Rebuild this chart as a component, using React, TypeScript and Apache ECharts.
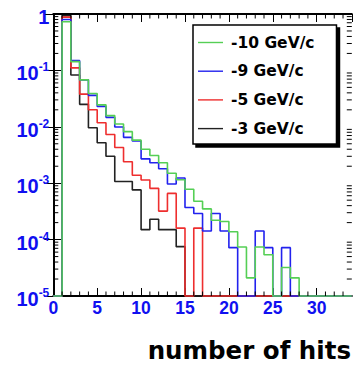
import React, { useEffect, useRef } from "react";
import * as echarts from "echarts";

// ---- axis ranges ----
const X_MIN = 0;
const X_MAX = 34;
const Y_MIN = 1e-5;
const Y_MAX = 1;

// ---- legend / series names and colours ----
const SERIES_NAMES = ["-10 GeV/c", "-9 GeV/c", "-5 GeV/c", "-3 GeV/c"];
const SERIES_COLORS = ["#55cf55", "#2222ee", "#ee2e2e", "#222222"];

// ---- bin contents: bin k covers [k, k+1) number of hits ----
const P10 = [
  0, 0.73, 0.143, 0.068, 0.039, 0.0245, 0.0158, 0.0112, 0.0082, 0.0058,
  0.004, 0.0031, 0.0023, 0.0015, 0.00115, 0.00078, 0.00048, 0.00035, 0.00022, 0.00021,
  0.000138, 0.000074, 0.000021, 0.000074, 0.000054, 0, 0.000032, 0.000021, 0, 0,
  0, 0, 0, 0,
];
const P9 = [
  0, 0.8, 0.149, 0.068, 0.036, 0.023, 0.0147, 0.0099, 0.0065, 0.0056,
  0.0027, 0.0023, 0.0018, 0.00097, 0.00124, 0.00037, 0.00029, 0.000142, 0.00029, 0.000142,
  0.000072, 0, 0, 0.000142, 0.000072, 0, 0.000072, 0, 0, 0,
  0, 0, 0, 0,
];
const P5 = [
  0, 0.88, 0.111, 0.038, 0.02, 0.0118, 0.0073, 0.0043, 0.0024, 0.00138,
  0.00114, 0.00081, 0.00032, 0.00066, 0.00016, 0, 0.00016, 0, 0, 0,
  0, 0, 0, 0, 0, 0, 0, 0, 0, 0,
  0, 0, 0, 0,
];
const P3 = [
  0, 0.93, 0.083, 0.025, 0.0096, 0.0052, 0.003, 0.00107, 0.00107, 0.00076,
  0.00015, 0.00023, 0.00015, 0.00015, 0.000075, 0, 0, 0, 0, 0,
  0, 0, 0, 0, 0, 0, 0, 0, 0, 0,
  0, 0, 0, 0,
];

const X_TITLE = "number of hits";

// minor tick positions (axis structure)
const X_MINOR_TICKS: number[] = [];
for (let v = X_MIN + 1; v < X_MAX; v++) if (v % 5 !== 0) X_MINOR_TICKS.push(v);
const Y_MINOR_TICKS: number[] = [];
for (let e = -5; e < 0; e++) for (let m = 2; m <= 9; m++) Y_MINOR_TICKS.push(m * Math.pow(10, e));

function histData(values: number[]) {
  const pts: number[][] = values.map((v, k) => [k, v > 0 ? v : Y_MIN]);
  const last = values[values.length - 1];
  pts.push([values.length, last > 0 ? last : Y_MIN]);
  return pts;
}

const LABEL_BLUE = "#1010f0";
const AXIS_FONT = "'Liberation Sans', Arial, Helvetica, sans-serif";
const TITLE_FONT = "'DejaVu Sans', sans-serif";

export default function App() {
  const ref = useRef<HTMLDivElement>(null);

  useEffect(() => {
    if (!ref.current) return;
    const chart = echarts.init(ref.current, null, { renderer: "svg" });

    const seriesValues = [P10, P9, P5, P3];
    // draw order: black, red, blue, green (green on top)
    const drawOrder = [3, 2, 1, 0];
    const lineSeries = drawOrder.map((i) => ({
      name: SERIES_NAMES[i],
      type: "line",
      step: "end",
      symbol: "none",
      clip: false,
      data: histData(seriesValues[i]),
      lineStyle: { color: SERIES_COLORS[i], width: 1.6 },
      itemStyle: { color: SERIES_COLORS[i] },
      emphasis: { disabled: true },
      z: 3,
    }));

    const tickData: number[][] = [
      ...X_MINOR_TICKS.map((v) => [v, Y_MIN, 0]),
      ...Y_MINOR_TICKS.map((v) => [X_MIN, v, 1]),
    ];

    const tickSeries = {
      type: "custom",
      silent: true,
      clip: false,
      z: 4,
      encode: { x: 0, y: 1 },
      data: tickData,
      renderItem: (params: any, api: any) => {
        const kind = api.value(2);
        const st = { stroke: "#000", lineWidth: 1 };
        if (kind === 0) {
          const x = api.value(0);
          const b = api.coord([x, Y_MIN]);
          const t = api.coord([x, Y_MAX]);
          return {
            type: "group",
            children: [
              { type: "line", shape: { x1: b[0], y1: b[1], x2: b[0], y2: b[1] - 4.5 }, style: st },
              { type: "line", shape: { x1: t[0], y1: t[1], x2: t[0], y2: t[1] + 4.5 }, style: st },
            ],
          };
        }
        const y = api.value(1);
        const l = api.coord([X_MIN, y]);
        const r = api.coord([X_MAX, y]);
        return {
          type: "group",
          children: [
            { type: "line", shape: { x1: l[0], y1: l[1], x2: l[0] + 5, y2: l[1] }, style: st },
            { type: "line", shape: { x1: r[0], y1: r[1], x2: r[0] - 5, y2: r[1] }, style: st },
          ],
        };
      },
    };

    const axisLine = { show: true, lineStyle: { color: "#000", width: 2 } };

    const option: any = {
      animation: false,
      backgroundColor: "#fff",
      title: {
        text: X_TITLE,
        right: 2,
        top: 336,
        padding: 0,
        textStyle: {
          fontFamily: TITLE_FONT,
          fontWeight: "bold",
          fontSize: 24.5,
          lineHeight: 28,
          color: "#000",
        },
      },
      grid: {
        left: 53.3,
        right: 1.2,
        top: 14,
        bottom: 72,
        containLabel: false,
        outerBoundsMode: "none",
      },
      legend: {
        orient: "vertical",
        left: 193,
        top: 25,
        padding: [9, 22, 7, 5],
        itemGap: 11.7,
        itemWidth: 25,
        itemHeight: 1.4,
        icon: "rect",
        backgroundColor: "#fff",
        borderColor: "#000",
        borderWidth: 1.5,
        borderRadius: 0,
        shadowColor: "#000",
        shadowOffsetX: 3,
        shadowOffsetY: 3,
        shadowBlur: 0,
        data: SERIES_NAMES,
        textStyle: {
          fontFamily: TITLE_FONT,
          fontWeight: "bold",
          fontSize: 15.5,
          lineHeight: 17,
          color: "#000",
          padding: [0, 0, 0, 3],
        },
        selectedMode: false,
      },
      xAxis: [
        {
          type: "value",
          position: "bottom",
          min: X_MIN,
          max: X_MAX,
          interval: 5,
          axisLine,
          axisTick: { show: true, inside: true, length: 8, lineStyle: { color: "#000", width: 1 } },
          splitLine: { show: false },
          axisLabel: {
            color: LABEL_BLUE,
            fontFamily: AXIS_FONT,
            fontWeight: "bold",
            fontSize: 17.5,
            margin: 3,
            showMaxLabel: false,
          },
        },
        {
          type: "value",
          position: "top",
          min: X_MIN,
          max: X_MAX,
          interval: 5,
          axisLine,
          axisTick: { show: true, inside: true, length: 8, lineStyle: { color: "#000", width: 1 } },
          splitLine: { show: false },
          axisLabel: { show: false },
        },
      ],
      yAxis: [
        {
          type: "log",
          logBase: 10,
          position: "left",
          min: Y_MIN,
          max: Y_MAX,
          axisLine,
          axisTick: { show: true, inside: true, length: 9, lineStyle: { color: "#000", width: 1 } },
          splitLine: { show: false },
          axisLabel: {
            margin: 4,
            padding: [6, 0, 0, 0],
            formatter: (v: number) => {
              const e = Math.round(Math.log10(v));
              if (e === 0) return "{b|1}";
              return `{b|10}{s|${e}}`;
            },
            rich: {
              b: {
                color: LABEL_BLUE,
                fontFamily: AXIS_FONT,
                fontWeight: "bold",
                fontSize: 20,
                lineHeight: 24,
              },
              s: {
                color: LABEL_BLUE,
                fontFamily: AXIS_FONT,
                fontWeight: "bold",
                fontSize: 12,
                lineHeight: 12,
                verticalAlign: "top",
              },
            },
          },
        },
        {
          type: "log",
          logBase: 10,
          position: "right",
          min: Y_MIN,
          max: Y_MAX,
          axisLine,
          axisTick: { show: true, inside: true, length: 9, lineStyle: { color: "#000", width: 1 } },
          splitLine: { show: false },
          axisLabel: { show: false },
        },
      ],
      series: [...lineSeries, tickSeries],
    };

    chart.setOption(option);
    return () => chart.dispose();
  }, []);

  return (
    <div
      ref={ref}
      style={{ position: "absolute", left: 0, top: 0, width: 353, height: 368, background: "#fff" }}
    />
  );
}
